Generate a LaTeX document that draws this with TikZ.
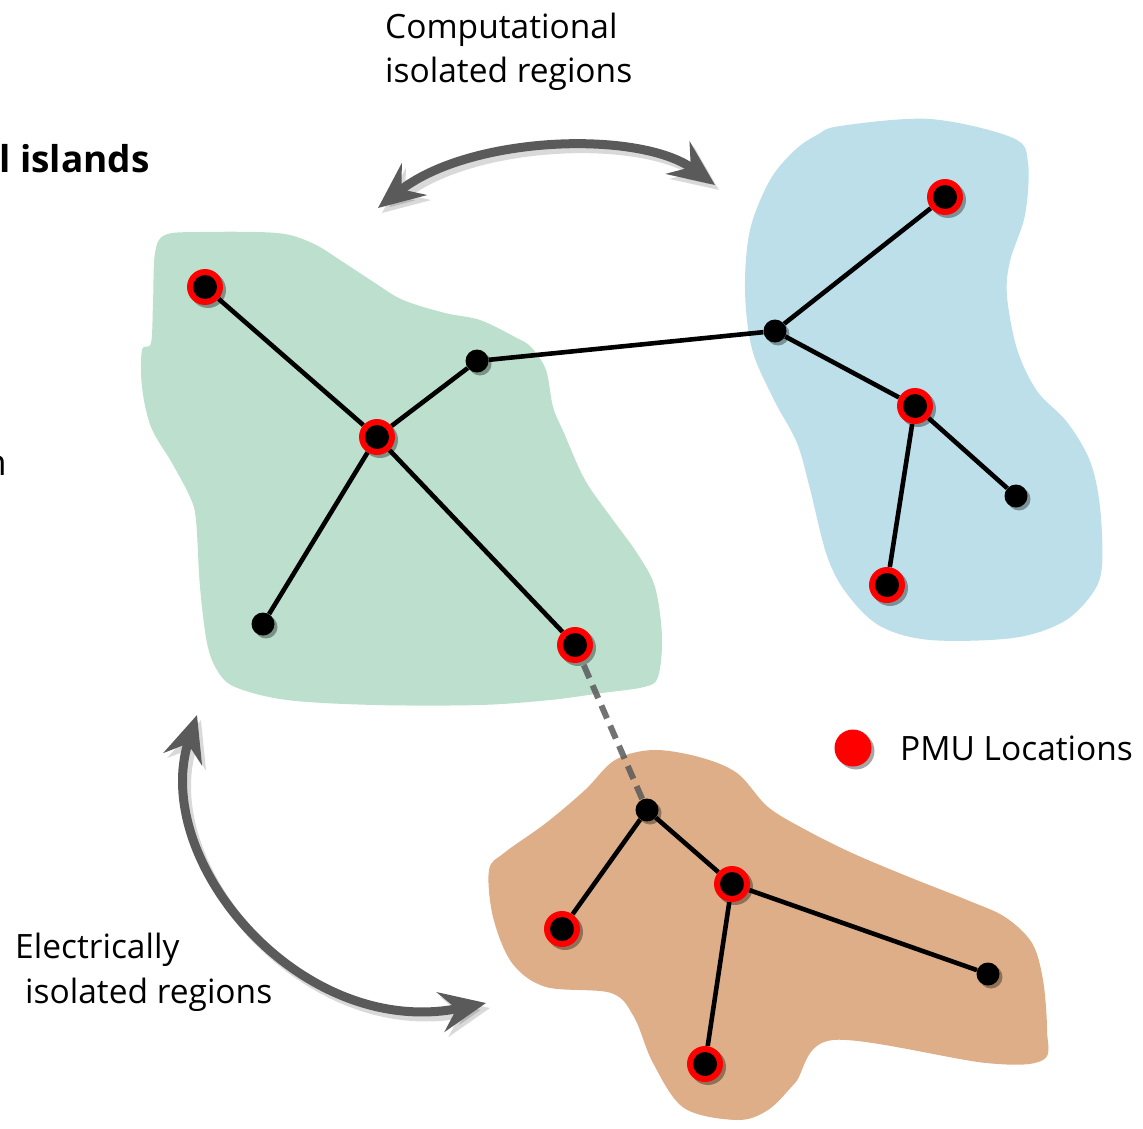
\documentclass[tikz,border=0pt]{standalone}
\usepackage{fontspec}
\setmainfont{Open Sans}
\usetikzlibrary{shadows,arrows.meta}
\definecolor{greenreg}{HTML}{BCE0CD}
\definecolor{bluereg}{HTML}{BCDFEA}
\definecolor{orangereg}{HTML}{DDAE87}
\definecolor{arrowgray}{HTML}{5A5A5A}
\definecolor{pmured}{HTML}{FF0000}
\pgfdeclarelayer{regions}
\pgfdeclarelayer{edges}
\pgfsetlayers{regions,edges,main}
\tikzset{
  nshadow/.style={drop shadow={shadow xshift=3pt,shadow yshift=-3pt,opacity=0.35,fill=black}},
  pmu/.style={circle,fill=pmured,minimum size=36pt,inner sep=0pt,nshadow,
    path picture={\fill[black] (path picture bounding box.center) circle (12pt);}},
  bus/.style={circle,fill=black,minimum size=23pt,inner sep=0pt,nshadow},
  legenddot/.style={circle,fill=pmured,minimum size=37pt,inner sep=0pt,nshadow},
  wire/.style={line width=4.6pt,draw=black},
  tieline/.style={line width=6pt,draw=arrowgray,opacity=0.85,dash pattern=on 14pt off 8pt},
  bigarrow/.style={line width=9pt,draw=arrowgray,
    {Stealth[length=46pt,width=40pt,inset=16pt]}-{Stealth[length=46pt,width=40pt,inset=16pt]}},
  arrowshade/.style={line width=9pt,draw=black,opacity=0.15,
    {Stealth[length=46pt,width=40pt,inset=16pt]}-{Stealth[length=46pt,width=40pt,inset=16pt]}},
  lbl/.style={inner sep=0pt,anchor=base west,font=\fontsize{33.5}{40}\selectfont},
}
\begin{document}
\begin{tikzpicture}[x=1pt,y=-1pt]
\useasboundingbox (0,0) rectangle (1143,1129);

% ---------- regions ----------
\begin{pgfonlayer}{regions}
\fill[greenreg] plot[smooth cycle,tension=0.55] coordinates {
 (165,235) (200,232) (277,233) (312,243) (340,260) (375,283) (403,300) (445,313)
 (480,320) (515,337) (531,347) (546,370) (553,407) (564,433) (585,480) (613,520)
 (637,553) (655,587) (662,637) (658,677) (644,687) (602,693) (550,700) (480,705)
 (375,705) (287,700) (235,687) (217,670) (207,643) (200,587) (196,520) (190,497)
 (172,463) (151,427) (142,387) (142,350) (151,343) (153,303) (155,253)};
\fill[bluereg] plot[smooth cycle,tension=0.55] coordinates {
 (840,126) (930,119) (1013,138) (1028,163) (1025,215) (1010,261) (1007,296)
 (1017,349) (1037,391) (1067,422) (1090,461) (1100,507) (1102,566) (1092,594)
 (1063,622) (1013,638) (930,640) (880,626) (847,594) (827,556) (810,489)
 (797,443) (773,398) (752,349) (745,290) (750,230) (770,180) (795,150) (817,135)};
\fill[orangereg] plot[smooth cycle,tension=0.55] coordinates {
 (615,760) (653,750) (699,757) (737,773) (768,807) (806,830) (852,853) (909,877)
 (967,900) (1005,917) (1032,943) (1043,980) (1047,1030) (1043,1060) (986,1063)
 (833,1040) (795,1083) (768,1110) (737,1120) (684,1108) (653,1063) (634,1017)
 (611,993) (546,987) (512,963) (493,917) (489,870) (504,853) (546,823) (585,790)};
\end{pgfonlayer}

% ---------- nodes ----------
% green island
\node[pmu] (A) at (205,287) {};
\node[pmu] (B) at (377,437) {};
\node[bus] (C) at (477,361) {};
\node[bus] (D) at (263,624) {};
\node[pmu] (E) at (575,645) {};
% blue island
\node[bus] (F) at (775,331) {};
\node[pmu] (G) at (945,197) {};
\node[pmu] (H) at (915,406) {};
\node[bus] (I) at (1016,496) {};
\node[pmu] (J) at (887,585) {};
% orange island
\node[bus] (K) at (647,810) {};
\node[pmu] (L) at (732,884) {};
\node[pmu] (M) at (562,929) {};
\node[bus] (N) at (988,974) {};
\node[pmu] (O) at (705,1064) {};

% ---------- connectors ----------
\begin{pgfonlayer}{edges}
\draw[wire] (A) -- (B);
\draw[wire] (B) -- (C);
\draw[wire] (C) -- (F);
\draw[wire] (B) -- (D);
\draw[wire] (B) -- (E);
\draw[wire] (F) -- (G);
\draw[wire] (F) -- (H);
\draw[wire] (H) -- (I);
\draw[wire] (H) -- (J);
\draw[wire] (K) -- (M);
\draw[wire] (K) -- (L);
\draw[wire] (L) -- (N);
\draw[wire] (L) -- (O);
\draw[tieline] (E.center) -- (K.center);
\end{pgfonlayer}

% ---------- big curved arrows ----------
\coordinate (t1) at (378,208);
\coordinate (t2) at (715,185);
\coordinate (s1) at (197,715);
\coordinate (s2) at (486,1003);
\draw[arrowshade] ([shift={(4,5)}]t1) .. controls (474,140) and (644,135) .. ([shift={(4,5)}]t2);
\draw[bigarrow] (t1) .. controls (470,135) and (640,130) .. (t2);
\draw[arrowshade] ([shift={(4,5)}]s1) .. controls (154,865) and (304,1045) .. ([shift={(4,5)}]s2);
\draw[bigarrow] (s1) .. controls (150,860) and (300,1040) .. (s2);

% ---------- texts ----------
\node[lbl] (comp1) at (385,39) {Computational};
\node[lbl] (comp2) at (385,83) {isolated regions};
\node[lbl] (elec1) at (15,958) {Electrically};
\node[lbl] (elec2) at (25,1003) {isolated regions};
\node[legenddot] (leg) at (853,748) {};
\node[lbl] (legtxt) at (900,760) {PMU Locations};
\node[inner sep=0pt,anchor=base east,font=\fontsize{37}{44}\selectfont\bfseries] (isl) at (150,172) {l islands};
\node[inner sep=0pt,anchor=base east,font=\fontsize{36}{44}\selectfont] (cutn) at (7,475) {n};
\end{tikzpicture}
\end{document}
